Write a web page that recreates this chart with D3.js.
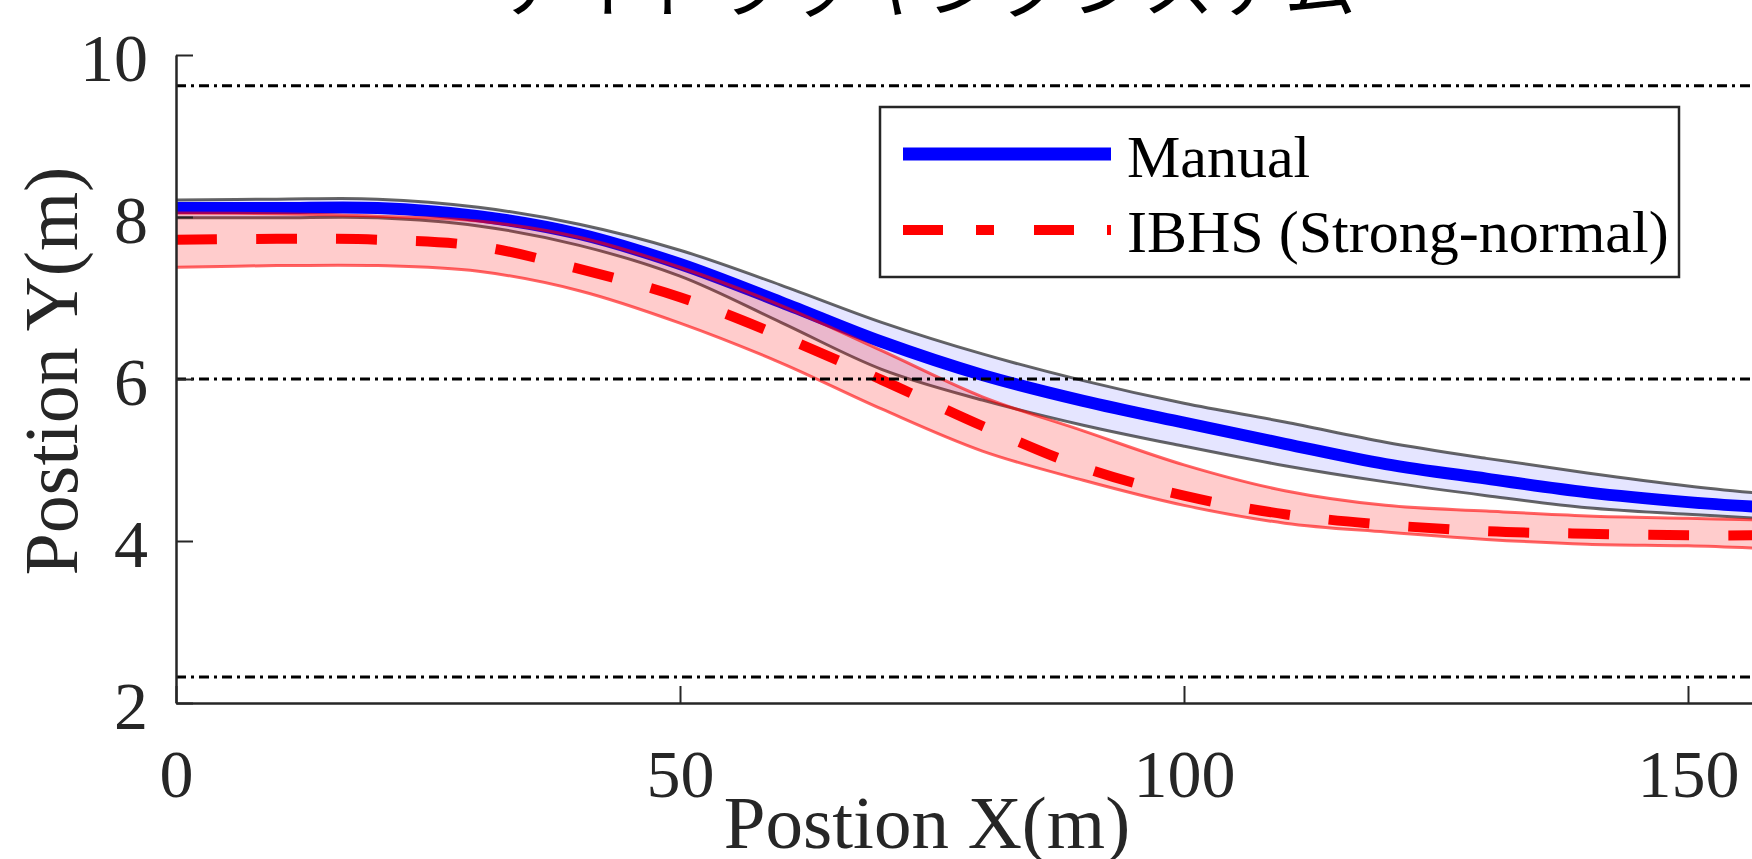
<!DOCTYPE html>
<html>
<head>
<meta charset="utf-8">
<script src="https://cdn.jsdelivr.net/npm/d3@7"></script>
<style>
  body { margin: 0; background: #fff; }
  text { font-family: "Liberation Serif", "Times New Roman", serif; fill: #262626; }
</style>
</head>
<body>
<div id="chart"></div>
<script>
// values
const titleText = 'アイトラッキングシステム';
const xLabel = 'Postion X(m)';
const yLabel = 'Postion Y(m)';
const seriesNames = ['Manual', 'IBHS (Strong-normal)'];

const xVals = [0, 10, 20, 30, 40, 50, 60, 70, 80, 90, 100, 110, 120, 130, 140, 150, 157];
const manualMean  = [8.11, 8.11, 8.11, 8.01, 7.79, 7.42, 6.95, 6.46, 6.05, 5.73, 5.46, 5.20, 4.95, 4.77, 4.60, 4.48, 4.42];
const manualUpper = [8.21, 8.22, 8.22, 8.12, 7.91, 7.59, 7.16, 6.70, 6.31, 5.98, 5.70, 5.47, 5.22, 5.02, 4.84, 4.68, 4.59];
const manualLower = [7.99, 7.99, 7.99, 7.89, 7.65, 7.27, 6.70, 6.12, 5.74, 5.43, 5.17, 4.93, 4.73, 4.56, 4.41, 4.33, 4.28];
const ibhsMean  = [7.72, 7.73, 7.72, 7.64, 7.36, 7.01, 6.53, 5.99, 5.42, 4.91, 4.56, 4.33, 4.20, 4.12, 4.09, 4.07, 4.07];
const ibhsUpper = [8.05, 8.04, 8.01, 7.95, 7.75, 7.38, 6.91, 6.35, 5.78, 5.36, 4.94, 4.62, 4.44, 4.37, 4.31, 4.28, 4.26];
const ibhsLower = [7.38, 7.40, 7.40, 7.33, 7.09, 6.69, 6.20, 5.63, 5.11, 4.75, 4.44, 4.22, 4.11, 4.02, 3.96, 3.94, 3.91];

const laneLines = [9.62, 6, 2.32];
const xTicks = [0, 50, 100, 150];
const yTicks = [2, 4, 6, 8, 10];

const W = 1752, H = 859;
const axisColor = '#262626';

const svg = d3.select('#chart').append('svg')
  .attr('width', W).attr('height', H);

// scales (x axis runs past the right edge, as in the cropped figure)
const x = d3.scaleLinear().domain([0, 160]).range([176, 176 + 160 * 10.08]);
const y = d3.scaleLinear().domain([2, 10]).range([703, 55]);

const rows = xVals.map((v, i) => ({
  x: v,
  m: manualMean[i], mu: manualUpper[i], ml: manualLower[i],
  b: ibhsMean[i], bu: ibhsUpper[i], bl: ibhsLower[i]
}));

const curve = d3.curveCatmullRom.alpha(0.5);
function band(lo, hi) {
  return d3.area().x(d => x(d.x)).y0(d => y(d[lo])).y1(d => y(d[hi])).curve(curve);
}
function line(key) {
  return d3.line().x(d => x(d.x)).y(d => y(d[key])).curve(curve);
}

// manual band
svg.append('path').datum(rows).attr('d', band('ml', 'mu'))
  .attr('fill', 'rgb(0,0,255)').attr('fill-opacity', 0.1);
['mu', 'ml'].forEach(k => {
  svg.append('path').datum(rows).attr('d', line(k))
    .attr('fill', 'none').attr('stroke', 'black').attr('stroke-opacity', 0.6).attr('stroke-width', 3);
});
svg.append('path').datum(rows).attr('d', line('m'))
  .attr('fill', 'none').attr('stroke', '#0000ff').attr('stroke-width', 12);

// IBHS band
svg.append('path').datum(rows).attr('d', band('bl', 'bu'))
  .attr('fill', 'rgb(255,0,0)').attr('fill-opacity', 0.2);
['bu', 'bl'].forEach(k => {
  svg.append('path').datum(rows).attr('d', line(k))
    .attr('fill', 'none').attr('stroke', 'red').attr('stroke-opacity', 0.6).attr('stroke-width', 3);
});
svg.append('path').datum(rows).attr('d', line('b'))
  .attr('fill', 'none').attr('stroke', '#ff0000').attr('stroke-width', 10)
  .attr('stroke-dasharray', '41,39');

// lane lines
svg.selectAll('.lane').data(laneLines).enter().append('line')
  .attr('class', 'lane')
  .attr('x1', x(0)).attr('x2', W)
  .attr('y1', d => y(d)).attr('y2', d => y(d))
  .attr('stroke', 'black').attr('stroke-width', 3)
  .attr('stroke-dasharray', '10,5,3,5');

// axes
const gx = svg.append('g').attr('transform', 'translate(0,' + y(2) + ')')
  .call(d3.axisBottom(x).tickValues(xTicks).tickSizeInner(-17).tickSizeOuter(0).tickPadding(46));
const gy = svg.append('g').attr('transform', 'translate(' + x(0) + ',0)')
  .call(d3.axisLeft(y).tickValues(yTicks).tickSizeInner(-17).tickSizeOuter(0).tickPadding(28));

[gx, gy].forEach(g => {
  g.select('.domain').attr('stroke', axisColor).attr('stroke-width', 2.5);
  g.selectAll('.tick line').attr('stroke', axisColor).attr('stroke-width', 2);
  g.selectAll('.tick text').attr('font-family', '"Liberation Serif", serif')
    .attr('font-size', 68).attr('fill', axisColor);
});
gy.selectAll('.tick text').attr('dy', '0.37em');

// axis labels
svg.append('text').attr('x', 927).attr('y', 848)
  .attr('text-anchor', 'middle').attr('font-size', 75).text(xLabel);
svg.append('text').attr('transform', 'translate(77,371) rotate(-90)')
  .attr('text-anchor', 'middle').attr('font-size', 76).text(yLabel);

// title (cut off at top)
svg.append('text').attr('x', 928).attr('y', 11)
  .attr('text-anchor', 'middle')
  .style('font-family', '"Noto Sans CJK JP", sans-serif')
  .attr('font-size', 72).style('fill', '#000').text(titleText);

// legend
const lg = svg.append('g');
lg.append('rect').attr('x', 880).attr('y', 107).attr('width', 799).attr('height', 170)
  .attr('fill', 'white').attr('stroke', axisColor).attr('stroke-width', 2.5);
lg.append('line').attr('x1', 903).attr('x2', 1111).attr('y1', 154).attr('y2', 154)
  .attr('stroke', '#0000ff').attr('stroke-width', 13);
lg.append('line').attr('x1', 903).attr('x2', 1111).attr('y1', 230).attr('y2', 230)
  .attr('stroke', '#ff0000').attr('stroke-width', 10).attr('stroke-dasharray', '40,33,18,40');
lg.selectAll('.lab').data(seriesNames).enter().append('text')
  .attr('x', 1127).attr('y', (d, i) => 177 + i * 75)
  .attr('font-size', 60).style('fill', '#000').text(d => d);
</script>
</body>
</html>
